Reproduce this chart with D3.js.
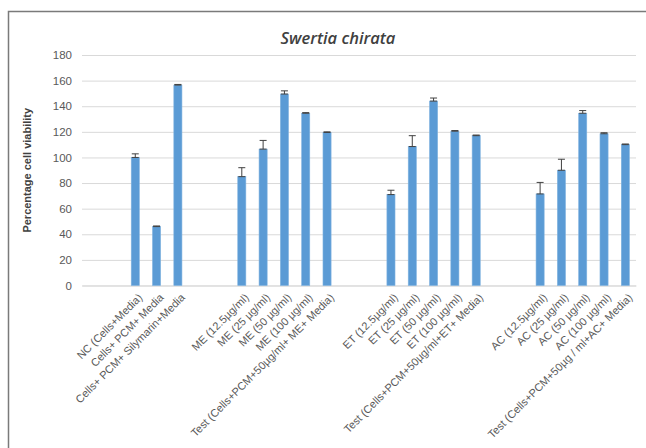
<!DOCTYPE html>
<html>
<head>
<meta charset="utf-8">
<script src="https://cdn.jsdelivr.net/npm/d3@7/dist/d3.min.js"></script>
<style>
  html, body { margin: 0; padding: 0; background: #fff; }
  svg { display: block; }
</style>
</head>
<body>
<svg id="chart" width="646" height="448"></svg>
<script>
// Treatment groups; empty strings are spacer slots between groups
const categories = [
  "", "",
  "NC (Cells+Media)", "Cells+ PCM+ Media", "Cells+ PCM+ Silymarin+Media",
  "", "",
  "ME (12.5µg/ml)", "ME (25 µg/ml)", "ME (50 µg/ml)", "ME (100 µg/ml)", "Test (Cells+PCM+50µg/ml+ ME+ Media)",
  "", "",
  "ET (12.5µg/ml)", "ET (25 µg/ml)", "ET (50 µg/ml)", "ET (100 µg/ml)", "Test (Cells+PCM+50µg/ml+ET+ Media)",
  "", "",
  "AC (12.5µg/ml)", "AC (25 µg/ml)", "AC (50 µg/ml)", "AC (100 µg/ml)", "Test (Cells+PCM+50µg / ml+AC+ Media)"
];

// Percentage cell viability per slot (null = spacer)
const viability = [
  null, null,
  100, 46, 156.5,
  null, null,
  85, 106.5, 149.5, 134.5, 119.5,
  null, null,
  71, 108.5, 144, 120.5, 117,
  null, null,
  71.5, 90, 134.5, 118.5, 110
];

// Error bar half-lengths
const errors = [
  null, null,
  2.8, 0.5, 0.5,
  null, null,
  7, 6.8, 2.5, 0.5, 0.5,
  null, null,
  3.4, 8.5, 2.4, 0.5, 0.5,
  null, null,
  9, 8.6, 2.1, 0.8, 0.5
];

const yTicks = [0, 20, 40, 60, 80, 100, 120, 140, 160, 180];

const svg = d3.select("#chart");
const plotLeft = 82, plotRight = 636, plotTop = 55, plotBottom = 285.5;

// chart frame (left and top edges)
svg.append("path")
  .attr("d", `M8.5,448 L8.5,11.5 L646,11.5`)
  .attr("fill", "none")
  .attr("stroke", "#7a7a7a")
  .attr("stroke-width", 1.5);

const x = d3.scaleBand()
  .domain(d3.range(categories.length))
  .range([plotLeft, plotRight])
  .paddingInner(0.62)
  .paddingOuter(0.31);

const y = d3.scaleLinear().domain([0, 180]).range([plotBottom, plotTop]);

// horizontal gridlines and value labels
const yAxis = d3.axisLeft(y).tickValues(yTicks).tickSize(-(plotRight - plotLeft)).tickPadding(10);
const gy = svg.append("g").attr("transform", `translate(${plotLeft},0)`).call(yAxis);
gy.select(".domain").remove();
gy.selectAll(".tick line").attr("stroke", "#d9d9d9").attr("stroke-width", 1);
gy.selectAll(".tick text")
  .attr("fill", "#595959")
  .attr("font-family", "'Liberation Sans', Arial, sans-serif")
  .attr("font-size", 11.5);

// category axis
const xAxis = d3.axisBottom(x).tickSize(0).tickFormat(i => categories[i]);
const gx = svg.append("g").attr("transform", `translate(0,${plotBottom})`).call(xAxis);
gx.select(".domain").attr("stroke", "#d9d9d9");
gx.selectAll(".tick text")
  .attr("fill", "#595959")
  .attr("font-family", "'Liberation Sans', Arial, sans-serif")
  .attr("font-size", 11)
  .attr("text-anchor", "end")
  .attr("x", 0).attr("y", 0).attr("dy", "0.35em")
  .attr("transform", "translate(5,10) rotate(-45)");

// bars
const data = categories.map((c, i) => ({ i, v: viability[i], e: errors[i] })).filter(d => d.v !== null);

svg.append("g").selectAll("rect").data(data).join("rect")
  .attr("x", d => x(d.i))
  .attr("width", x.bandwidth())
  .attr("y", d => y(d.v))
  .attr("height", d => y(0) - y(d.v))
  .attr("fill", "#5b9bd5")
  .attr("stroke", "#7fb2e0")
  .attr("stroke-width", 0.6);

// error bars
const eg = svg.append("g").attr("stroke", "#404040").attr("stroke-width", 1).attr("fill", "none");
data.forEach(d => {
  const cx = x(d.i) + x.bandwidth() / 2;
  eg.append("line").attr("x1", cx).attr("x2", cx).attr("y1", y(d.v)).attr("y2", y(d.v + d.e));
  eg.append("line").attr("x1", cx - 3.5).attr("x2", cx + 3.5).attr("y1", y(d.v + d.e)).attr("y2", y(d.v + d.e));
  eg.append("line").attr("x1", cx - 3.5).attr("x2", cx + 3.5).attr("y1", y(d.v)).attr("y2", y(d.v));
});

// title
svg.append("text")
  .attr("x", 338).attr("y", 44)
  .attr("text-anchor", "middle")
  .attr("font-family", "'Open Sans', 'Liberation Sans', sans-serif")
  .attr("font-style", "italic")
  .attr("font-weight", 600)
  .attr("font-size", 16.5)
  .attr("fill", "#404040")
  .text("Swertia chirata");

// y-axis title
svg.append("text")
  .attr("transform", `translate(31,${(plotTop + plotBottom) / 2}) rotate(-90)`)
  .attr("text-anchor", "middle")
  .attr("font-family", "'Liberation Sans', Arial, sans-serif")
  .attr("font-weight", "bold")
  .attr("font-size", 11)
  .attr("fill", "#404040")
  .text("Percentage cell viability");
</script>
</body>
</html>
